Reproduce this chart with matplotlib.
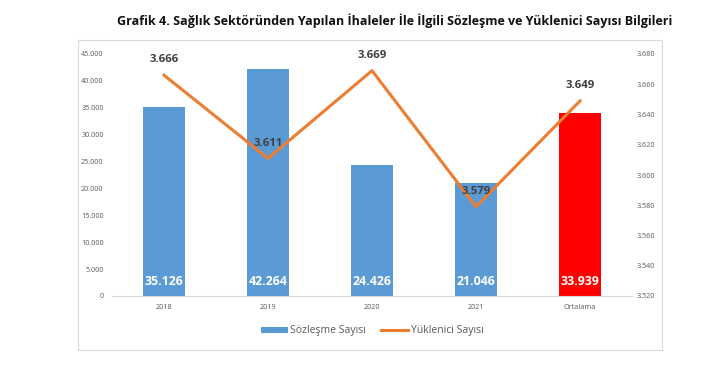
import matplotlib.pyplot as plt
from matplotlib.patches import Rectangle
from matplotlib.ticker import FuncFormatter
import numpy as np

categories = ['2018', '2019', '2020', '2021', 'Ortalama']
sozlesme = [35126, 42264, 24426, 21046, 33939]
yuklenici = [3666, 3611, 3669, 3579, 3649]
bar_colors = ['#5B9BD5', '#5B9BD5', '#5B9BD5', '#5B9BD5', '#FF0000']

def tr_fmt(v, pos=None):
    return '{:,.0f}'.format(v).replace(',', '.')

plt.rcParams['font.family'] = ['Open Sans', 'DejaVu Sans']

fig = plt.figure(figsize=(7.26, 3.74), dpi=100)
fig.patch.set_facecolor('white')

# chart border
fig.patches.append(Rectangle((78 / 726, 1 - 350 / 374), (662 - 78) / 726, (350 - 40) / 374,
                             transform=fig.transFigure, fill=False, edgecolor='#D9D9D9', lw=0.8))

fig.text(117 / 726, 1 - 21 / 374,
         'Grafik 4. Sağlık Sektöründen Yapılan İhaleler İle İlgili Sözleşme ve Yüklenici Sayısı Bilgileri',
         fontsize=9.0, fontweight='bold', color='#111111', va='center', ha='left')

ax = fig.add_axes([112 / 726, 1 - 296 / 374, (632 - 112) / 726, (296 - 54) / 374])
x = np.arange(len(categories))
bars = ax.bar(x, sozlesme, width=0.4, color=bar_colors, zorder=2, label='Sözleşme Sayısı')
ax.set_xlim(-0.5, len(categories) - 0.5)
ax.set_ylim(0, 45000)
ax.set_yticks(np.arange(0, 45001, 5000))
ax.yaxis.set_major_formatter(FuncFormatter(tr_fmt))
ax.set_xticks(x)
ax.set_xticklabels(categories)
for s in ['top', 'right', 'left']:
    ax.spines[s].set_visible(False)
ax.spines['bottom'].set_color('#D9D9D9')
ax.tick_params(axis='both', length=0, labelsize=5.2, labelcolor='#595959')
ax.tick_params(axis='x', pad=6)
ax.tick_params(axis='y', pad=6)

for i, v in enumerate(sozlesme):
    ax.text(i, 2700, tr_fmt(v), ha='center', va='center', color='white',
            fontsize=8.8, fontweight='bold', zorder=4)

ax2 = ax.twinx()
ax2.set_ylim(3520, 3680)
ax2.set_yticks(np.arange(3520, 3681, 20))
ax2.yaxis.set_major_formatter(FuncFormatter(tr_fmt))
for s in ['top', 'right', 'left', 'bottom']:
    ax2.spines[s].set_visible(False)
ax2.tick_params(axis='y', length=0, labelsize=5.2, labelcolor='#595959', pad=3)
line, = ax2.plot(x, yuklenici, color='#ED7D31', lw=2.2, zorder=3, label='Yüklenici Sayısı')

for i, v in enumerate(yuklenici):
    ax2.annotate(tr_fmt(v), (i, v), xytext=(0, 7), textcoords='offset points',
                 ha='center', va='bottom', fontsize=8.2, fontweight='bold', color='#404040')

fig.legend([bars, line], ['Sözleşme Sayısı', 'Yüklenici Sayısı'], loc='center',
           bbox_to_anchor=(372 / 726, 1 - 331 / 374), ncol=2, frameon=False,
           fontsize=7.5, labelcolor='#595959', handlelength=2.6, handleheight=0.6,
           columnspacing=1.5, handletextpad=0.2)

fig.savefig('out.png', dpi=100, facecolor='white')
